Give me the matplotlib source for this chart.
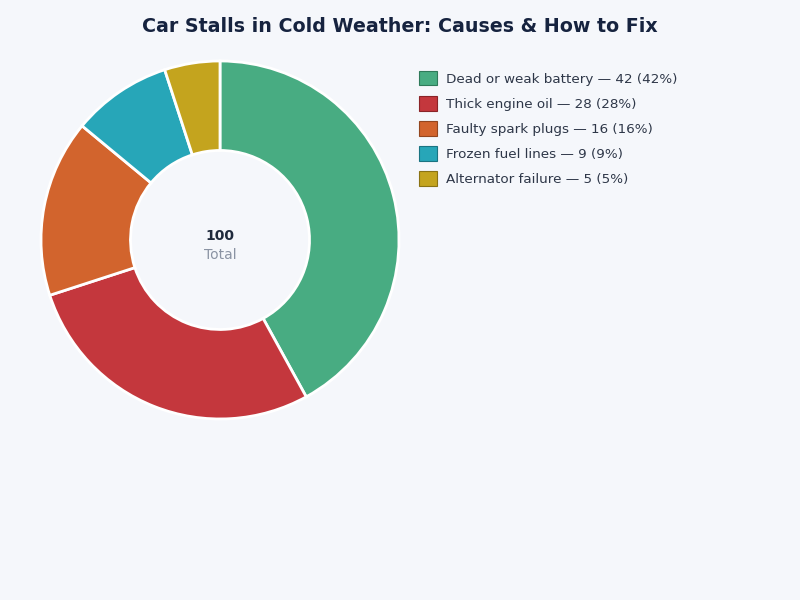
import matplotlib
matplotlib.use("Agg")
import matplotlib.pyplot as plt
from matplotlib.patches import Patch

categories = ["Dead or weak battery", "Thick engine oil", "Faulty spark plugs",
              "Frozen fuel lines", "Alternator failure"]
values = [42, 28, 16, 9, 5]
colors = ["#48ac82", "#c4373d", "#d2642d", "#27a6b8", "#c4a41e"]
edges = ["#2f7a5a", "#8a2428", "#93461f", "#1a7482", "#8a7314"]

bg = "#f5f7fb"
fig = plt.figure(figsize=(8, 6), dpi=100, facecolor=bg)
ax = fig.add_axes([0.05125, 0.3017, 0.4475, 0.5967])
ax.set_facecolor(bg)
ax.pie(values, colors=colors, startangle=90, counterclock=False, radius=1,
       wedgeprops=dict(width=0.5, edgecolor="white", linewidth=2))
ax.set_xlim(-1.0, 1.0)
ax.set_ylim(-1.0, 1.0)
ax.set_aspect("equal")
ax.axis("off")

total = sum(values)
ax.text(0, 0.024, f"{total}", ha="center", va="center", fontsize=10,
        fontweight="bold", color="#1f2a3c")
ax.text(0, -0.082, "Total", ha="center", va="center", fontsize=10, color="#8a93a3")

fig.text(0.5, 0.955, "Car Stalls in Cold Weather: Causes & How to Fix",
         ha="center", va="center", fontsize=13.7, fontweight="bold", color="#16233f")

handles = [Patch(facecolor=c, edgecolor=e, linewidth=0.8,
                 label=f"{n} — {v} ({v/total*100:.0f}%)")
           for n, v, c, e in zip(categories, values, colors, edges)]
leg = fig.legend(handles=handles, loc="upper left", bbox_to_anchor=(0.5175, 0.891),
                 frameon=False, fontsize=9.7, handlelength=1.3, handleheight=1.3,
                 handletextpad=0.65, labelspacing=0.76, borderaxespad=0)
for t in leg.get_texts():
    t.set_color("#2e3748")

fig.savefig("out.png", dpi=100, facecolor=bg)
